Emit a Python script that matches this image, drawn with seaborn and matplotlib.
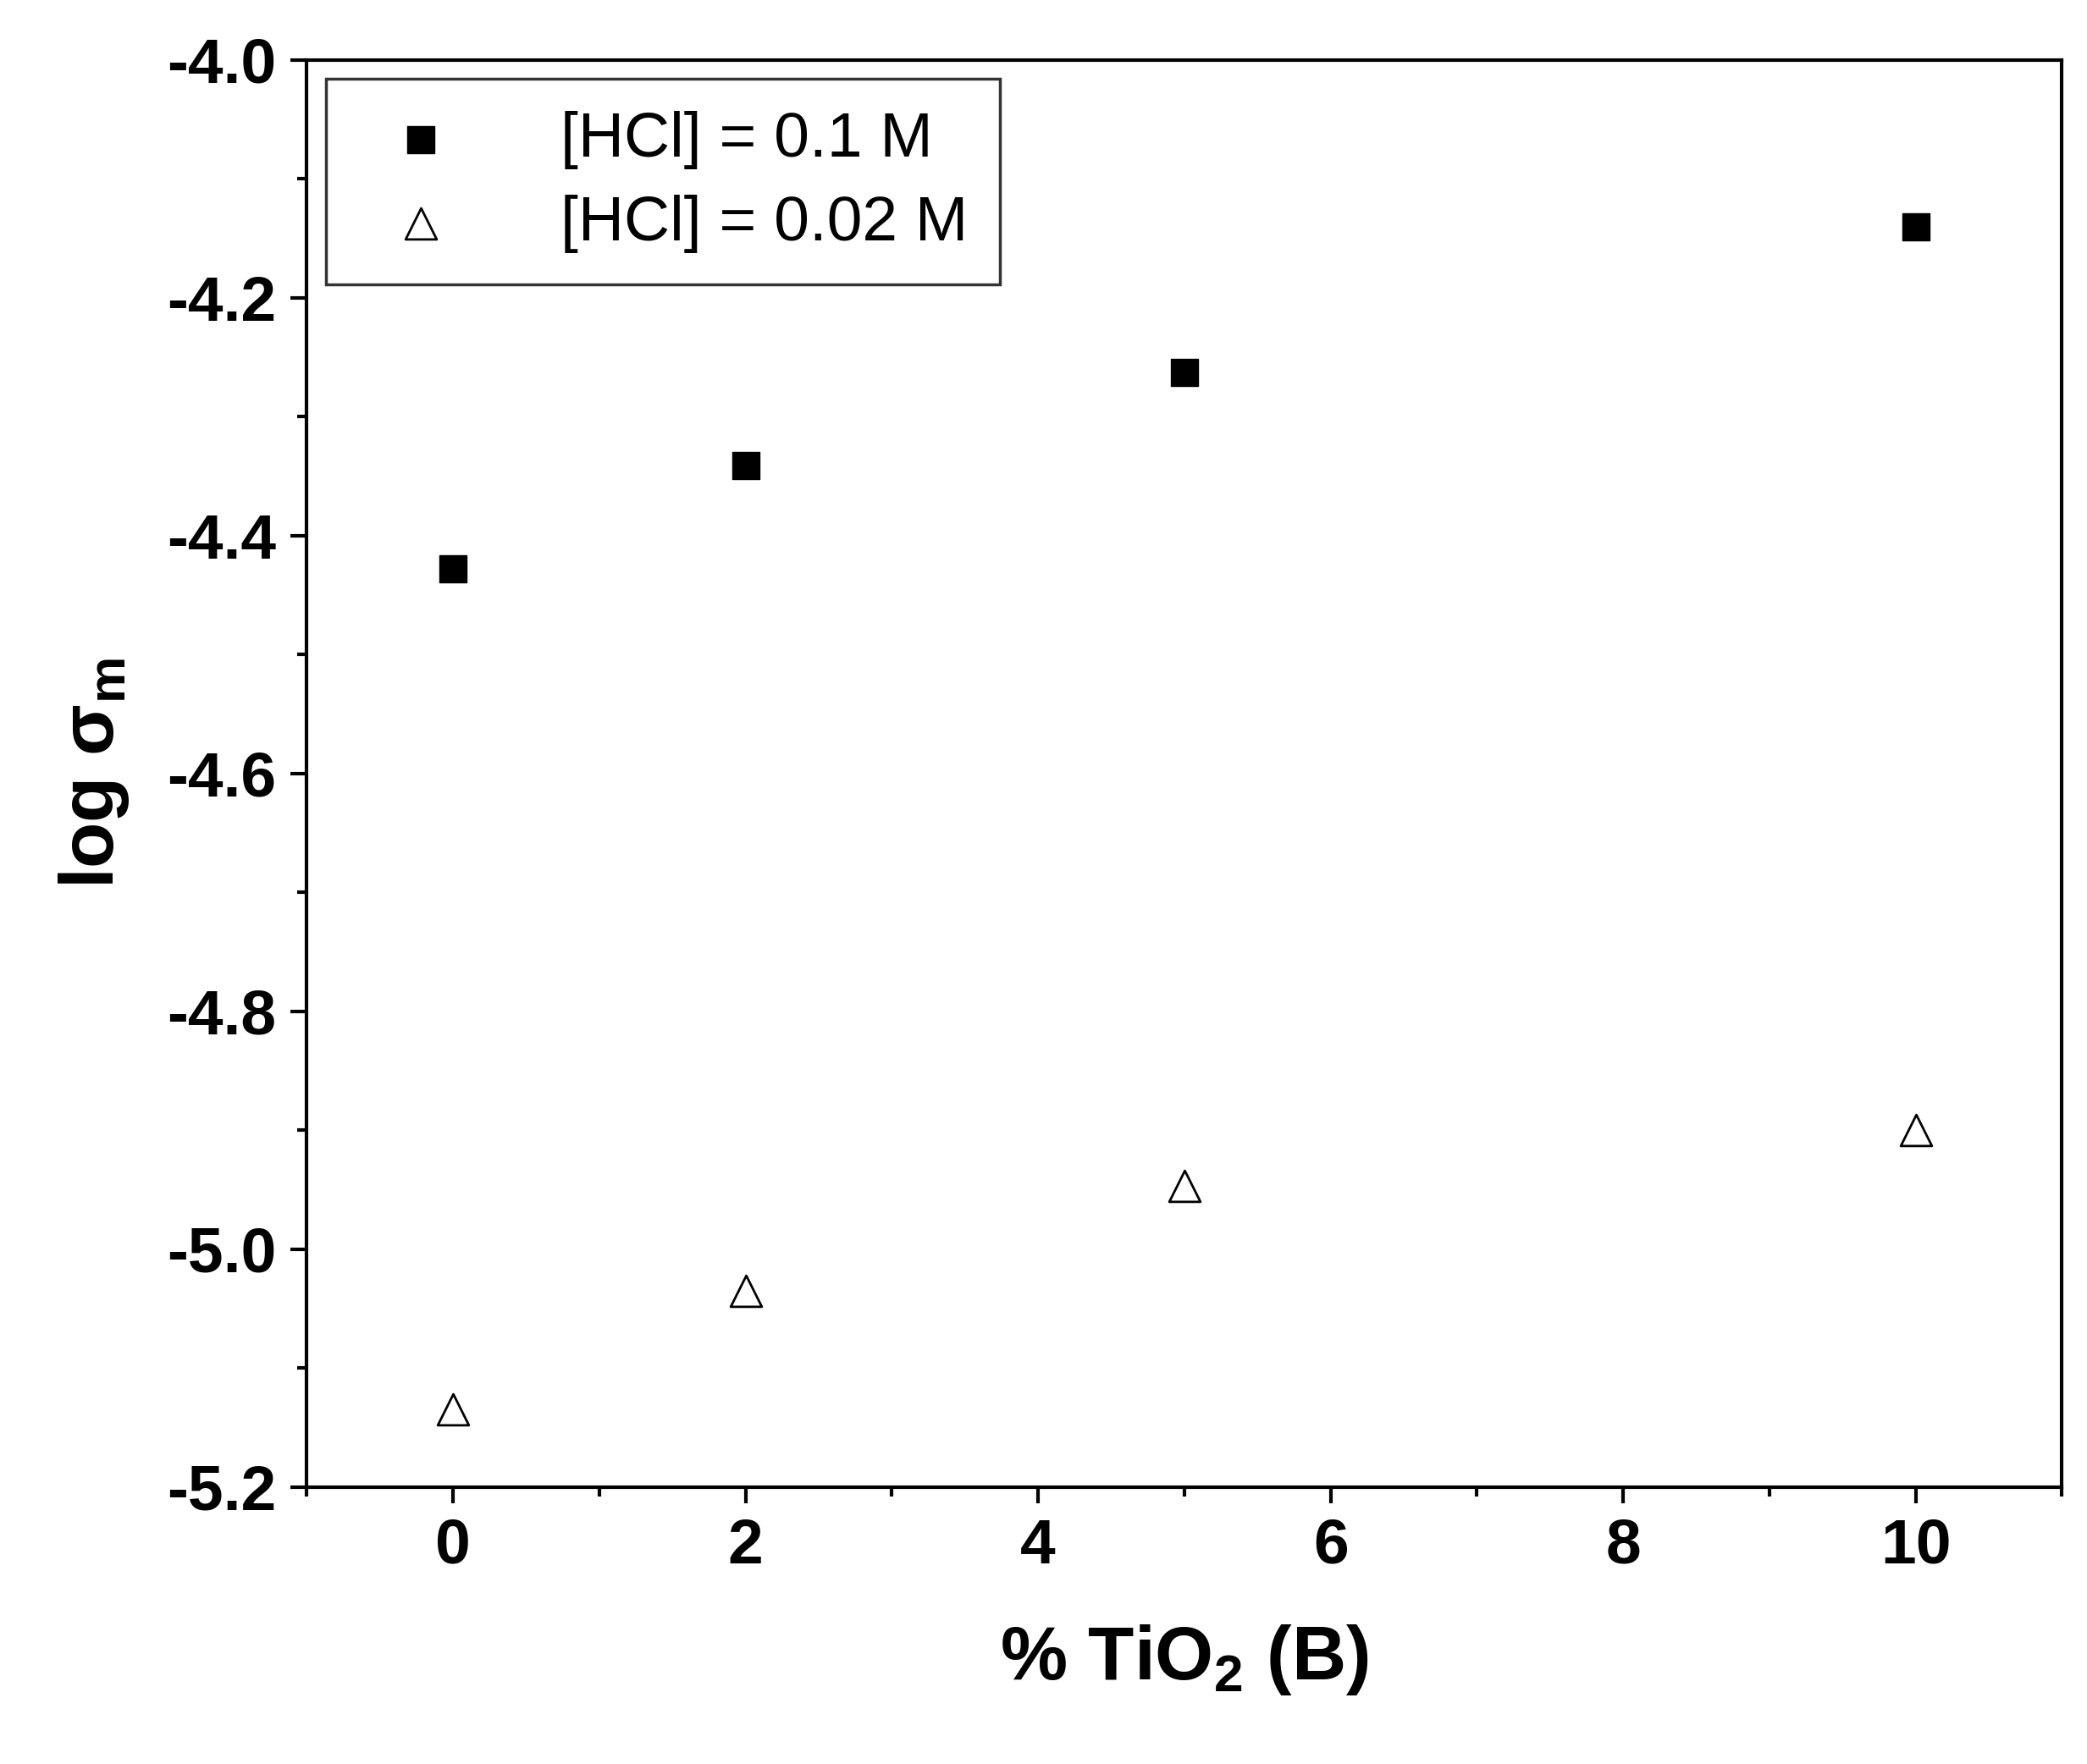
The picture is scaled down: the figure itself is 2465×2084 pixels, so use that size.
import matplotlib
matplotlib.use("Agg")
import matplotlib.pyplot as plt
import seaborn as sns
import pandas as pd
from matplotlib.ticker import MultipleLocator

x = [0, 2, 5, 10]
hcl_01 = [-4.428, -4.341, -4.263, -4.140]
hcl_002 = [-5.135, -5.035, -4.947, -4.900]
labels = ["[HCl] = 0.1 M", "[HCl] = 0.02 M"]

sns.set_style("ticks")
plt.rcParams['font.family'] = ['Liberation Sans', 'DejaVu Sans']
plt.rcParams['mathtext.fontset'] = 'custom'
plt.rcParams['mathtext.bf'] = 'Liberation Sans:bold'
plt.rcParams['mathtext.rm'] = 'Liberation Sans'
for k in ['text.color', 'axes.labelcolor', 'xtick.color', 'ytick.color', 'axes.edgecolor']:
    plt.rcParams[k] = 'black'
fig = plt.figure(figsize=(24.65, 20.84), dpi=100)
ax = fig.add_axes([0.147, 0.157, 0.841, 0.809])

ax.scatter(x, hcl_01, marker='s', s=500, color='black', label=labels[0], zorder=3)
ax.scatter(x, hcl_002, marker='^', s=700, facecolor='white', edgecolor='black',
           linewidth=2, label=labels[1], zorder=3)

ax.set_xlim(-1, 11)
ax.set_ylim(-5.2, -4.0)
ax.xaxis.set_major_locator(MultipleLocator(2))
ax.xaxis.set_minor_locator(MultipleLocator(1))
ax.yaxis.set_minor_locator(MultipleLocator(0.1))
ax.set_yticks([-5.2, -5.0, -4.8, -4.6, -4.4, -4.2, -4.0])
ax.set_yticklabels(["-5.2", "-5.0", "-4.8", "-4.6", "-4.4", "-4.2", "-4.0"])
ax.tick_params(which='major', length=14, width=3, labelsize=54, pad=12)
ax.tick_params(which='minor', length=8, width=3)
for lab in ax.get_xticklabels() + ax.get_yticklabels():
    lab.set_fontweight('bold')
for sp in ax.spines.values():
    sp.set_linewidth(3)
    sp.set_visible(True)

ax.set_xlabel("% TiO$_\\mathbf{2}$ (B)", fontsize=64, fontweight='bold', labelpad=40)
ax.set_ylabel("log σ$_\\mathbf{m}$", fontsize=64, fontweight='bold', labelpad=30)

leg = ax.legend(loc='upper left', fontsize=54, frameon=True, fancybox=False,
                edgecolor='black', borderpad=0.5, handletextpad=1.2,
                borderaxespad=0.3, labelspacing=0.4)
leg.get_frame().set_linewidth(2.5)

fig.savefig("out.png", dpi=100)
